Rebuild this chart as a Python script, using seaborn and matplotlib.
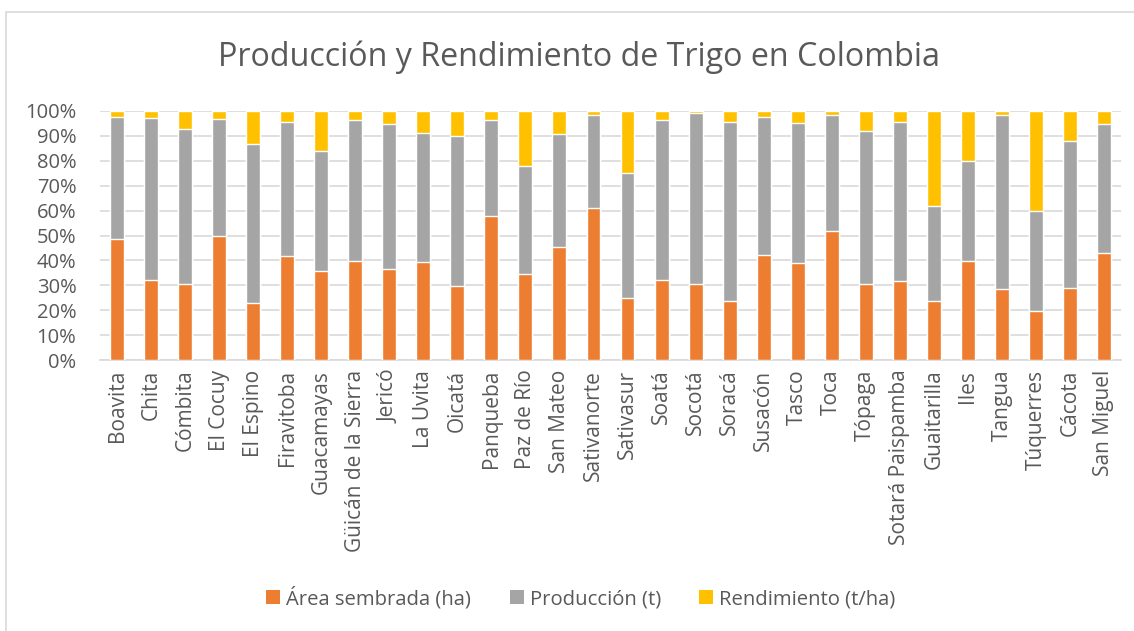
import matplotlib
matplotlib.use("Agg")
import matplotlib.pyplot as plt
import seaborn as sns
import pandas as pd
import numpy as np
from matplotlib.patches import Rectangle, Patch
from matplotlib.ticker import FuncFormatter

categories = ["Boavita", "Chita", "Cómbita", "El Cocuy", "El Espino", "Firavitoba",
              "Guacamayas", "Güicán de la Sierra", "Jericó", "La Uvita", "Oicatá",
              "Panqueba", "Paz de Río", "San Mateo", "Sativanorte", "Sativasur",
              "Soatá", "Socotá", "Soracá", "Susacón", "Tasco", "Toca", "Tópaga",
              "Sotará Paispamba", "Guaitarilla", "Iles", "Tangua", "Túquerres",
              "Cácota", "San Miguel"]

area_pct = [48.5, 32.2, 30.7, 49.9, 22.7, 41.6, 35.7, 39.7, 36.7, 39.4, 29.8,
            57.9, 34.6, 45.2, 61.1, 24.8, 32.2, 30.4, 23.5, 42.2, 39.0, 51.9,
            30.7, 31.8, 23.5, 39.8, 28.6, 19.7, 29.0, 42.8]
prod_pct = [49.0, 65.1, 62.2, 47.0, 64.2, 54.1, 48.2, 56.8, 57.9, 51.9, 60.3,
            38.6, 43.4, 45.7, 37.3, 50.1, 64.3, 68.9, 72.2, 55.3, 56.0, 46.6,
            61.4, 63.9, 38.2, 40.1, 69.9, 40.2, 59.1, 51.8]
rend_pct = [2.5, 2.7, 7.1, 3.1, 13.1, 4.3, 16.1, 3.5, 5.4, 8.7, 9.9,
            3.5, 22.0, 9.1, 1.6, 25.1, 3.5, 0.7, 4.3, 2.5, 5.0, 1.5,
            7.9, 4.3, 38.3, 20.1, 1.5, 40.1, 11.9, 5.4]

series_names = ["Área sembrada (ha)", "Producción (t)", "Rendimiento (t/ha)"]
colors = ["#ED7D31", "#A5A5A5", "#FFC000"]
text_color = "#595959"

sns.set_theme(style="white")
plt.rcParams["font.family"] = ["Open Sans", "DejaVu Sans"]

a = np.array(area_pct)
p = np.array(prod_pct)
r = np.array(rend_pct)
tot = a + p + r
a_n = a / tot * 100
p_n = p / tot * 100

df = pd.DataFrame({
    "cat": categories,
    "top": np.full(len(categories), 100.0),
    "mid": a_n + p_n,
    "low": a_n,
})

fig = plt.figure(figsize=(11.34, 6.31), dpi=100)
ax = fig.add_axes([100 / 1134, 1 - 360 / 631, (1121 - 100) / 1134, (360 - 111) / 631])

bw = 0.41
sns.barplot(data=df, x="cat", y="top", color=colors[2], width=bw, ax=ax, saturation=1, zorder=3)
sns.barplot(data=df, x="cat", y="mid", color=colors[1], width=bw, ax=ax, saturation=1, zorder=3)
sns.barplot(data=df, x="cat", y="low", color=colors[0], width=bw, ax=ax, saturation=1, zorder=3)

ax.set_xlim(-0.5, len(categories) - 0.5)
ax.set_ylim(0, 100)
ax.set_yticks(np.arange(0, 101, 10))
ax.yaxis.set_major_formatter(FuncFormatter(lambda v, _: f"{int(round(v))}%"))
ax.grid(axis="y", color="#D9D9D9", linewidth=1.2, zorder=0)
ax.set_axisbelow(True)
for s in ["top", "right", "left"]:
    ax.spines[s].set_visible(False)
ax.spines["bottom"].set_color("#D9D9D9")
ax.spines["bottom"].set_linewidth(1.2)
ax.set_xlabel("")
ax.set_ylabel("")
ax.tick_params(axis="both", length=0, colors=text_color)
ax.tick_params(axis="y", pad=17, labelsize=14.5)
ax.tick_params(axis="x", pad=7)
ax.set_xticks(range(len(categories)))
ax.set_xticklabels(categories, rotation=90, color=text_color, fontsize=15)

fig.text(579 / 1134, 1 - 57 / 631, "Producción y Rendimiento de Trigo en Colombia",
         ha="center", va="center", fontsize=23.2, color=text_color)

handles = [Patch(facecolor=c, edgecolor="none") for c in colors]
fig.legend(handles, series_names, loc="center", bbox_to_anchor=(581 / 1134, 1 - 598 / 631),
           ncol=3, frameon=False, fontsize=14.6, labelcolor=text_color,
           handlelength=0.68, handleheight=0.68, handletextpad=0.3, columnspacing=1.9)

fig.patches.append(Rectangle((6 / 1134, -0.05), 1.1, 1 - 12 / 631 + 0.05,
                             transform=fig.transFigure, fill=False,
                             edgecolor="#D9D9D9", linewidth=1.2))

fig.savefig("out.png", dpi=100)
